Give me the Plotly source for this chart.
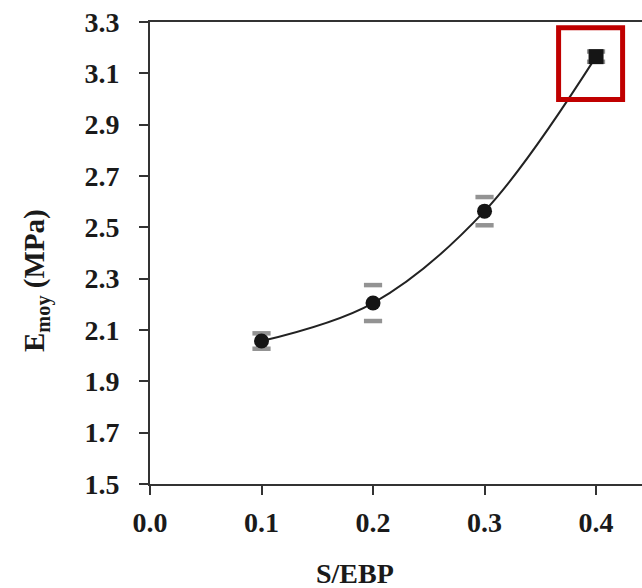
import plotly.graph_objects as go

ratio = [0.1, 0.2, 0.3, 0.4]
e_moy = [2.057, 2.205, 2.563, 3.165]
err = [0.03, 0.07, 0.055, 0.02]
symbols = ["circle", "circle", "circle", "square"]
x_ticks = [0.0, 0.1, 0.2, 0.3, 0.4]
y_ticks = [1.5, 1.7, 1.9, 2.1, 2.3, 2.5, 2.7, 2.9, 3.1, 3.3]

FONT = "Liberation Serif"
TXT = "#1a1a1a"

fig = go.Figure()
# trend curve
fig.add_trace(go.Scatter(x=ratio, y=e_moy, mode="lines",
                         line=dict(color="#222", width=2, shape="spline", smoothing=1.0),
                         hoverinfo="skip", showlegend=False))
# error caps
fig.add_trace(go.Scatter(x=ratio + ratio,
                         y=[v + e for v, e in zip(e_moy, err)] + [v - e for v, e in zip(e_moy, err)],
                         mode="markers",
                         marker=dict(symbol="line-ew", size=13, line=dict(color="#939393", width=4.5)),
                         showlegend=False))
# points
fig.add_trace(go.Scatter(x=ratio, y=e_moy, mode="markers",
                         marker=dict(symbol=symbols, size=15, color="#151515", line=dict(width=0)),
                         showlegend=False))

# highlight box
fig.add_shape(type="rect", xref="x", yref="y", x0=0.3664, x1=0.4238, y0=2.998, y1=3.278,
              line=dict(color="#c00000", width=5))

fig.add_annotation(text="<b>S/EBP</b>", xref="paper", yref="paper", x=(355 - 150) / 492,
                   y=-(573 - 484) / 462, showarrow=False,
                   font=dict(family=FONT, size=28, color=TXT), xanchor="center", yanchor="middle")
fig.add_annotation(text="<b>E<sub>moy</sub> (MPa)</b>", xref="paper", yref="paper",
                   x=(36 - 150) / 492, y=(484 - 281) / 462,
                   showarrow=False, textangle=-90, font=dict(family=FONT, size=29, color=TXT),
                   xanchor="center", yanchor="middle")

common = dict(showline=True, linecolor="#333", linewidth=2, ticks="outside", ticklen=9,
              tickwidth=2, tickcolor="#333", showgrid=False, zeroline=False,
              tickfont=dict(family=FONT, size=28, color=TXT))
fig.update_xaxes(range=[0, 0.4412], tickvals=x_ticks, ticktext=[f"<b>{v:.1f}</b>" for v in x_ticks],
                 mirror=True, ticklabelstandoff=3, **common)
fig.update_yaxes(range=[1.5, 3.3], tickvals=y_ticks, ticktext=[f"<b>{v:.1f}</b>" for v in y_ticks],
                 ticklabelstandoff=14, **common)

fig.update_layout(width=642, height=588, margin=dict(l=150, r=0, t=22, b=104),
                  plot_bgcolor="white", paper_bgcolor="white")

fig.write_html("out.html")
